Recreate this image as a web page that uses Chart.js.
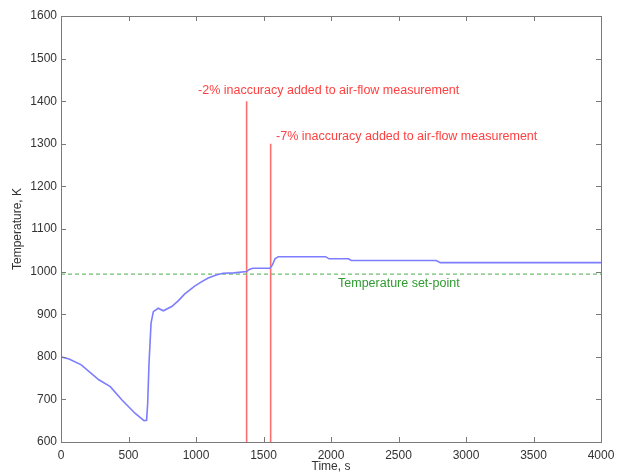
<!DOCTYPE html>
<html>
<head>
<meta charset="utf-8">
<script src="https://cdn.jsdelivr.net/npm/chart.js@4/dist/chart.umd.min.js"></script>
<style>
  html, body { margin: 0; padding: 0; background: #fff; }
  #wrap { width: 618px; height: 474px; }
</style>
</head>
<body>
<div id="wrap"><canvas id="tempChart"></canvas></div>
<script>
// temperature response (time in s, temperature in K)
const timeS = [0, 60, 150, 280, 365, 450, 550, 615, 634, 642, 652, 667, 684, 720, 758, 820, 870, 915, 990, 1040, 1090, 1150, 1200, 1280, 1375, 1395, 1420, 1548, 1565, 1585, 1610, 1960, 1985, 2130, 2150, 2780, 2810, 4000];
const tempK = [800, 795, 781, 746, 730, 699, 667, 650, 651, 691, 785, 879, 906, 914, 908, 918, 932, 947, 966, 976, 985, 992, 996, 997, 1000, 1005, 1008, 1008, 1015, 1030, 1035, 1035, 1030, 1030, 1026, 1026, 1021, 1021];

const setPoint = 994;

// inaccuracy events
const eventTimes = [1375, 1553];
const eventTops = [1400, 1300];
const eventLabels = ['-2% inaccuracy added to air-flow measurement', '-7% inaccuracy added to air-flow measurement'];
const setPointLabel = 'Temperature set-point';

const xTicks = [0, 500, 1000, 1500, 2000, 2500, 3000, 3500, 4000];
const yTicks = [600, 700, 800, 900, 1000, 1100, 1200, 1300, 1400, 1500, 1600];

const FONT = 'Liberation Sans, Arial, Helvetica, sans-serif';
const AXIS_COLOR = '#7a7a7a';

// label anchors, in data units
const notes = [
  { text: eventLabels[0], x: 1015, y: 1426, color: '#ff4040' },
  { text: eventLabels[1], x: 1593, y: 1316, color: '#ff4040' },
  { text: setPointLabel, x: 2052, y: 973, color: '#2f9a2f' }
];

const datasets = [
  {
    label: 'Temperature',
    data: timeS.map((t, i) => ({ x: t, y: tempK[i] })),
    borderColor: 'rgb(125,125,255)',
    borderWidth: 1.6,
    pointRadius: 0,
    tension: 0
  },
  {
    label: 'Set-point',
    data: [{ x: xTicks[0], y: setPoint }, { x: xTicks[xTicks.length - 1], y: setPoint }],
    borderColor: 'rgb(110,190,110)',
    borderWidth: 1.2,
    borderDash: [4, 3],
    pointRadius: 0
  }
];
eventTimes.forEach((t, i) => {
  datasets.push({
    label: eventLabels[i],
    data: [{ x: t, y: yTicks[0] }, { x: t, y: eventTops[i] }],
    borderColor: 'rgb(255,110,110)',
    borderWidth: 1.6,
    pointRadius: 0
  });
});

// box around the plot, inward ticks, text labels
const frame = {
  id: 'frame',
  afterDatasetsDraw(chart) {
    const { ctx, chartArea: a, scales: { x, y } } = chart;
    ctx.save();
    ctx.strokeStyle = AXIS_COLOR;
    ctx.lineWidth = 1;
    ctx.strokeRect(a.left + 0.5, a.top + 0.5, a.right - a.left, a.bottom - a.top);
    const len = 5;
    ctx.beginPath();
    xTicks.forEach(v => {
      const px = Math.round(x.getPixelForValue(v)) + 0.5;
      ctx.moveTo(px, a.bottom); ctx.lineTo(px, a.bottom - len);
      ctx.moveTo(px, a.top); ctx.lineTo(px, a.top + len);
    });
    yTicks.forEach(v => {
      const py = Math.round(y.getPixelForValue(v)) + 0.5;
      ctx.moveTo(a.left, py); ctx.lineTo(a.left + len, py);
      ctx.moveTo(a.right, py); ctx.lineTo(a.right - len, py);
    });
    ctx.stroke();

    ctx.font = '12.5px ' + FONT;
    ctx.textAlign = 'left';
    ctx.textBaseline = 'middle';
    notes.forEach(n => {
      ctx.fillStyle = n.color;
      ctx.fillText(n.text, x.getPixelForValue(n.x), y.getPixelForValue(n.y));
    });
    ctx.restore();
  }
};

const plainTick = v => String(v);

new Chart(document.getElementById('tempChart').getContext('2d'), {
  type: 'line',
  data: { datasets: datasets },
  options: {
    responsive: true,
    maintainAspectRatio: false,
    animation: false,
    layout: { padding: { top: 16, right: 17, bottom: 0, left: 0 } },
    plugins: { legend: { display: false }, tooltip: { enabled: false } },
    scales: {
      x: {
        type: 'linear',
        min: 0,
        max: 4000,
        afterBuildTicks: s => { s.ticks = xTicks.map(v => ({ value: v })); },
        afterFit: s => { s.height = 32; s.paddingLeft = 0; s.paddingRight = 0; },
        grid: { display: false, drawTicks: false },
        border: { display: false },
        ticks: { padding: 6, color: '#333', font: { family: FONT, size: 12 }, maxRotation: 0, autoSkip: false, callback: plainTick },
        title: { display: true, text: 'Time, s', color: '#333', font: { family: FONT, size: 12 }, padding: 0 }
      },
      y: {
        min: 600,
        max: 1600,
        afterBuildTicks: s => { s.ticks = yTicks.map(v => ({ value: v })); },
        afterFit: s => { s.width = 61; s.paddingTop = 0; s.paddingBottom = 0; },
        grid: { display: false, drawTicks: false },
        border: { display: false },
        ticks: { padding: 4, color: '#333', font: { family: FONT, size: 12 }, autoSkip: false, callback: plainTick },
        title: { display: true, text: 'Temperature, K', color: '#333', font: { family: FONT, size: 12 }, padding: { top: 10, bottom: 0 } }
      }
    }
  },
  plugins: [frame]
});
</script>
</body>
</html>
